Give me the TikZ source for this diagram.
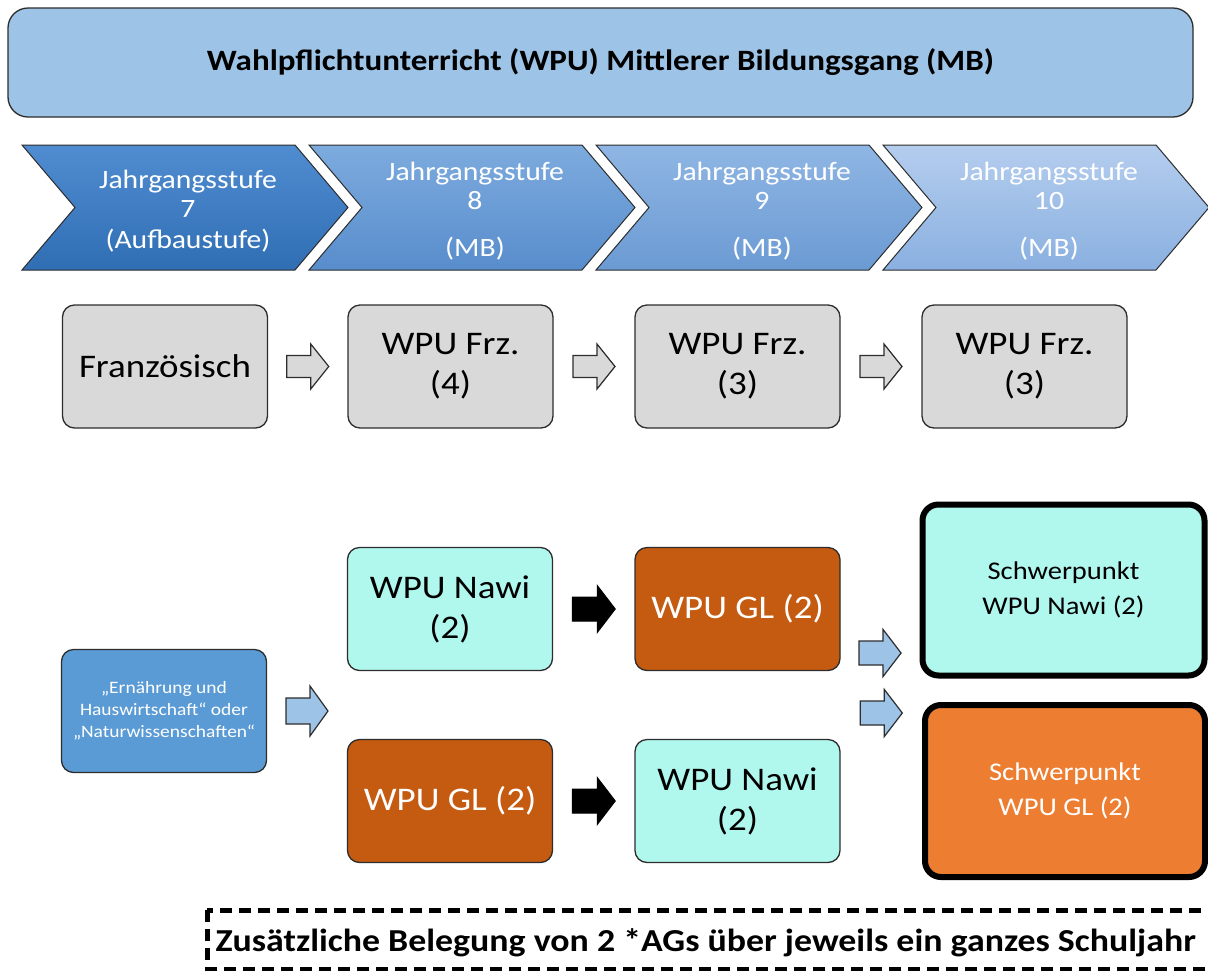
\documentclass[tikz,border=0pt]{standalone}
\usepackage{fontspec}
\setmainfont{Carlito}[FakeStretch=1.12]
\usepackage{tikz}
\usetikzlibrary{positioning, calc}
\definecolor{boxline}{RGB}{45,45,45}
\definecolor{titleblue}{RGB}{157,195,230}
\definecolor{frzgray}{RGB}{217,217,217}
\definecolor{nawicolor}{RGB}{176,247,238}
\definecolor{glcolor}{RGB}{197,90,17}
\definecolor{spglcolor}{RGB}{237,125,49}
\definecolor{infoblue}{RGB}{91,155,213}
\definecolor{stufeAtop}{RGB}{80,140,208}
\definecolor{stufeAbot}{RGB}{48,110,180}
\definecolor{stufeBtop}{RGB}{125,171,222}
\definecolor{stufeBbot}{RGB}{88,141,204}
\definecolor{stufeCtop}{RGB}{143,182,228}
\definecolor{stufeCbot}{RGB}{107,154,211}
\definecolor{stufeDtop}{RGB}{180,205,238}
\definecolor{stufeDbot}{RGB}{138,176,224}

% block arrow: style, centre, length, head width, shaft width, head length
\newcommand{\blockarrow}[6]{%
  \draw[#1] ($(#2)+({-#3/2},{-#5/2})$) -- ++({#3-#6},0) -- ++(0,{-(#4-#5)/2})
    -- ++(#6,{#4/2}) -- ++({-#6},{#4/2}) -- ++(0,{-(#4-#5)/2}) -- ++({-(#3-#6)},0) -- cycle;}

\begin{document}
\begin{tikzpicture}[
    x=1pt, y=-1pt,
    titlebox/.style={draw=boxline, line width=1.3pt, fill=titleblue, rounded corners=20pt, minimum width=1185pt, minimum height=109pt, font=\fontsize{29.5}{33}\selectfont\bfseries},
    stufe/.style={draw=boxline, line width=1pt},
    stufetext/.style={text=white, align=center, font=\fontsize{26.5}{29}\selectfont},
    frzbox/.style={draw=boxline, line width=1.3pt, fill=frzgray, rounded corners=12pt, minimum width=205pt, minimum height=123pt, align=center, font=\fontsize{33}{40}\selectfont},
    nawibox/.style={frzbox, fill=nawicolor},
    glbox/.style={frzbox, fill=glcolor, text=white},
    infobox/.style={frzbox, fill=infoblue, text=white, font=\fontsize{17.4}{22}\selectfont},
    spbox/.style={draw=black, line width=6pt, rounded corners=16pt, align=center, font=\fontsize{25.5}{35}\selectfont},
    grayarrow/.style={draw=boxline, line width=1.2pt, fill=frzgray},
    bluearrow/.style={draw=boxline, line width=1.2pt, fill=titleblue},
    blackarrow/.style={draw=black, line width=1pt, fill=black}
]
    \clip (0,0) rectangle (1208,970);
    \fill[white] (0,0) rectangle (1208,970);

    % title
    \node[titlebox] (title) at (600.5,62.5) {Wahlpflichtunterricht (WPU) Mittlerer Bildungsgang (MB)};

    % chevrons
    \foreach \x/\c in {22/A, 309/B, 596/C, 883/D} {
        \shade[stufe, top color=stufe\c top, bottom color=stufe\c bot] (\x,145) -- ++(273,0) -- ++(53,62.5) -- ++(-53,62.5) -- ++(-273,0) -- ++(53,-62.5) -- cycle;
    }
    \node[stufetext] (st7) at (188,211) {Jahrgangsstufe\\7\\[2pt](Aufbaustufe)};
    \node[stufetext] (st8) at (475,211) {Jahrgangsstufe\\8\\[18pt](MB)};
    \node[stufetext] (st9) at (762,211) {Jahrgangsstufe\\9\\[18pt](MB)};
    \node[stufetext] (st10) at (1049,211) {Jahrgangsstufe\\10\\[18pt](MB)};

    % Franzoesisch row
    \node[frzbox] (fr7) at (165,366.5) {Französisch};
    \node[frzbox] (fr8) at (450.5,366.5) {WPU Frz.\\(4)};
    \node[frzbox] (fr9) at (737.5,366.5) {WPU Frz.\\(3)};
    \node[frzbox] (fr10) at (1024.5,366.5) {WPU Frz.\\(3)};
    \coordinate (ga1) at ($(fr7.east)!0.5!(fr8.west)$);
    \coordinate (ga2) at ($(fr8.east)!0.5!(fr9.west)$);
    \coordinate (ga3) at ($(fr9.east)!0.5!(fr10.west)$);
    \blockarrow{grayarrow}{ga1}{42}{45}{22}{18}
    \blockarrow{grayarrow}{ga2}{42}{45}{22}{18}
    \blockarrow{grayarrow}{ga3}{42}{45}{22}{18}

    % Wahlpflicht row
    \node[infobox] (info) at (164,711) {„Ernährung und\\Hauswirtschaft“ oder\\„Naturwissenschaften“};
    \node[nawibox] (nawiA) at (450,609) {WPU Nawi\\(2)};
    \node[glbox] (glA) at (737.5,609) {WPU GL (2)};
    \node[glbox] (glB) at (450,801) {WPU GL (2)};
    \node[nawibox] (nawiB) at (737.5,801) {WPU Nawi\\(2)};
    \node[spbox, fill=nawicolor, minimum width=282pt, minimum height=171pt] (spN) at (1063.5,590) {Schwerpunkt\\WPU Nawi (2)};
    \node[spbox, fill=spglcolor, text=white, minimum width=280pt, minimum height=172pt] (spG) at (1065,791) {Schwerpunkt\\WPU GL (2)};

    \coordinate (ba1) at ($(info.east)!0.5!(glB.west |- info.east)$);
    \coordinate (ka1) at ($(nawiA.east)!0.5!(glA.west)$);
    \coordinate (ka2) at ($(glB.east)!0.5!(nawiB.west)$);
    \coordinate (ba2) at ($($(glA.east)!0.5!(spN.west |- glA.east)$)+(0,44)$);
    \coordinate (ba3) at ($($(nawiB.east)!0.5!(spG.west |- nawiB.east)$)+(0,-88)$);
    \blockarrow{bluearrow}{ba1}{42}{50}{26}{18}
    \blockarrow{blackarrow}{ka1}{43}{47}{24}{18}
    \blockarrow{blackarrow}{ka2}{43}{47}{24}{18}
    \blockarrow{bluearrow}{ba2}{42}{47}{24}{18}
    \blockarrow{bluearrow}{ba3}{42}{47}{24}{18}

    % AG note
    \draw[line width=5pt, dash pattern=on 12pt off 7pt] (207,910) rectangle (1215,969);
    \node[anchor=west, font=\fontsize{32}{34}\selectfont\bfseries] (ag) at (212,943) {Zusätzliche Belegung von 2 *AGs über jeweils ein ganzes Schuljahr};
\end{tikzpicture}
\end{document}
